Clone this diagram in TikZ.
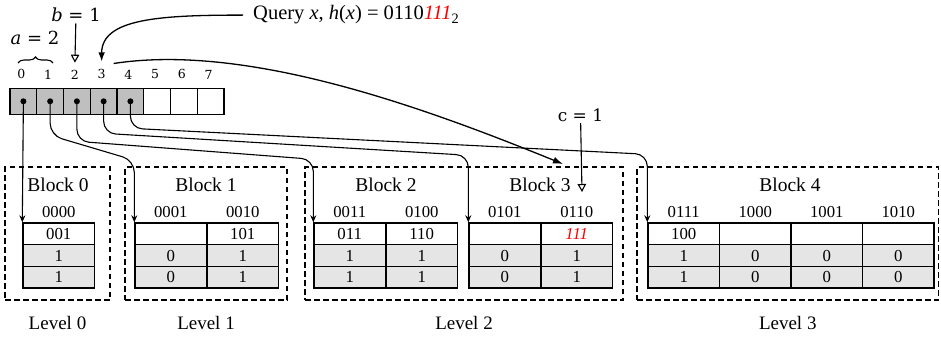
\documentclass[tikz,border=0pt]{standalone}
\usepackage{fontspec}
\setmainfont{Liberation Serif}
\newfontfamily\dejavu{DejaVu Serif}
\usetikzlibrary{arrows.meta,calc,positioning,decorations.pathreplacing}
\newcommand{\hit}[1]{\textcolor{red}{\textit{#1}}}

\begin{document}
\begin{tikzpicture}[x=1pt,y=-1pt,
  cell/.style={draw,line width=1.3pt,minimum width=26.75pt,minimum height=26pt,inner sep=0pt},
  idx/.style={inner sep=0pt,font=\dejavu\fontsize{12.5}{14}\selectfont},
  lab/.style={inner sep=1pt,font=\dejavu\fontsize{18}{20}\selectfont},
  tcell/.style={draw,line width=1.4pt,minimum width=71.5pt,minimum height=21.7pt,inner sep=0pt,font=\fontsize{16.8}{18}\selectfont},
  hd/.style={inner sep=0pt,font=\fontsize{16.7}{18}\selectfont},
  blocktitle/.style={inner sep=0pt,font=\fontsize{19.5}{22}\selectfont},
  lvbox/.style={draw,line width=1.3pt,dash pattern=on 5.5pt off 3.5pt,inner sep=0pt},
  ptr/.style={-{Stealth[length=7pt,width=6pt]},line width=1.1pt,rounded corners=12pt},
  tipopen/.style={-{Triangle[open,length=8pt,width=8.5pt]},line width=1.1pt},
  curvy/.style={-{Latex[length=10pt,width=7pt]},line width=1.3pt}]
  \useasboundingbox (0,0) rectangle (941,337);

  % directory array
  \foreach \i in {0,...,7}{
    \ifnum\i<5 \def\fc{gray!50}\else\def\fc{white}\fi
    \node[cell,fill=\fc] (c\i) at (23.4+26.75*\i,101.3) {};
    \node[idx,above=8.3pt of c\i,xshift=-2pt] (n\i) {\i};
  }
  \foreach \i in {0,...,4}
    \fill (c\i.center) circle (3pt);

  % a, b and the query
  \node[lab,anchor=base] (a) at (35,45) {\textit{a} = 2};
  \draw[line width=1.1pt,decorate,decoration={brace,amplitude=6pt}] (18,63) -- (53,63);
  \node[lab,anchor=base] (b) at (76,22) {\textit{b} = 1};
  \draw[tipopen] (b) -- ([yshift=7pt]n2.north);
  \node[inner sep=0pt,anchor=base west,font=\fontsize{20.5}{22}\selectfont] (query) at (253,20)
    {Query \textit{x}, \textit{h}(\textit{x}) = 0110\hit{111}\textsubscript{2}};
  \draw[curvy,-{Latex[length=9pt,width=6.5pt]}] ([xshift=-10pt]query.west)
    .. controls +(-83,0) and +(0,-43) .. ([yshift=8pt]n3.north);

  % levels
  \node[lvbox,minimum width=105pt,minimum height=133pt] (lv0) at (57.5,233.5) {};
  \node[lvbox,minimum width=162pt,minimum height=133pt] (lv1) at (206,233.5) {};
  \node[lvbox,minimum width=318pt,minimum height=133pt] (lv2) at (464,233.5) {};
  \node[lvbox,minimum width=301.5pt,minimum height=133pt] (lv3) at (787.75,233.5) {};
  \foreach \l in {0,...,3}
    \node[blocktitle,font=\fontsize{19}{22}\selectfont,below=15pt of lv\l] (l\l) {Level \l};

  % blocks
  \node[blocktitle] (b0) at (58,185) {Block 0};
  \node[blocktitle] (b1) at (206,185) {Block 1};
  \node[blocktitle] (b2) at (386,185) {Block 2};
  \node[blocktitle] (b3) at (540,185) {Block 3};
  \node[blocktitle] (b4) at (790,185) {Block 4};

  % bucket columns: left edge / key / fingerprint / two bits
  \foreach \x/\key/\fp/\u/\v [count=\k] in {23/0000/001/1/1, 135/0001/{}/0/0, 207/0010/101/1/1,
      314/0011/011/1/1, 386/0100/110/1/1, 469/0101/{}/0/0, 541/0110/\hit{111}/1/1,
      648/0111/100/1/1, 719.5/1000/{}/0/0, 791/1001/{}/0/0, 862.5/1010/{}/0/0}{
    \node[tcell] (t\k-0) at (\x+35.75,233.85) {\fp};
    \node[tcell,fill=gray!20] (t\k-1) at (\x+35.75,255.55) {\u};
    \node[tcell,fill=gray!20] (t\k-2) at (\x+35.75,277.25) {\v};
    \node[hd,above=4.5pt of t\k-0] (h\k) {\key};
  }

  % pointers from the array into the blocks
  \draw[ptr] (c0.center) -- (t1-0.north west);
  \draw[ptr] (c1.center) -- ++(0,34) -- ($(t2-0.north west)+(0,-62)$) -- (t2-0.north west);
  \draw[ptr] (c2.center) -- ++(0,40) -- ($(t4-0.north west)+(0,-63)$) -- (t4-0.north west);
  \draw[ptr] (c3.center) -- ++(0,32) -- ($(t6-0.north west)+(0,-67)$) -- (t6-0.north west);
  \draw[ptr] (c4.center) -- ++(0,27) -- ($(t8-0.north west)+(0,-68)$) -- (t8-0.north west);

  % c and the jump into block 3
  \coordinate (hitblk) at (563,164);
  \draw[curvy] ([shift={(12,-6)}]n3.north) .. controls +(136,-21) and +(-133,-54) .. (hitblk);
  \node[lab,font=\dejavu\fontsize{17}{20}\selectfont,anchor=base] (c) at (580.5,121.7) {c = 1};
  \coordinate (cend) at (582,192);
  \draw[tipopen] (c) -- (cend);
\end{tikzpicture}
\end{document}
